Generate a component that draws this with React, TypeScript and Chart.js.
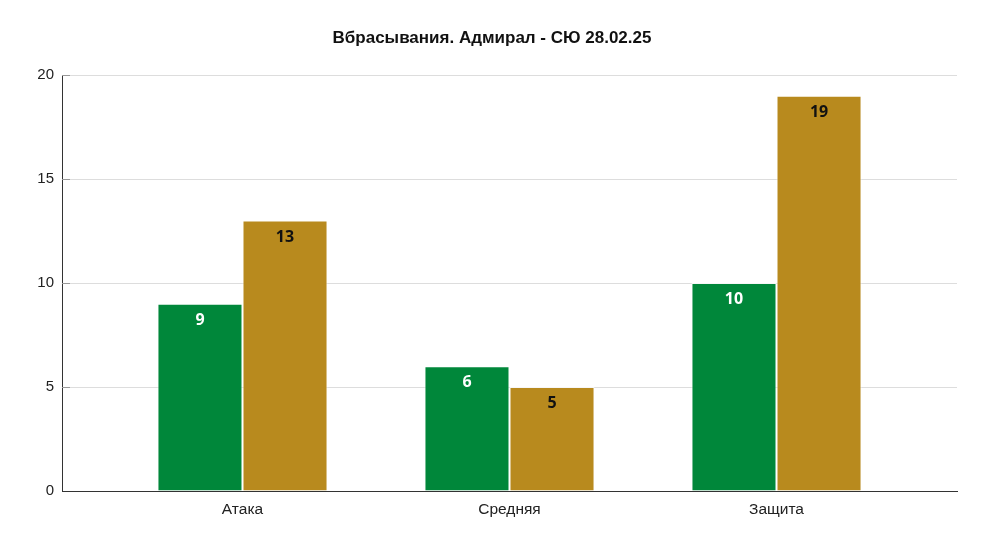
import React, { useEffect, useRef } from "react";
import { Chart, registerables } from "chart.js";

Chart.register(...registerables);

const categories = ["Атака", "Средняя", "Защита"];
const seriesGreen = [9, 6, 10];
const seriesGold = [13, 5, 19];
const yTicks = [0, 5, 10, 15, 20];
const titleText = "Вбрасывания. Адмирал - СЮ 28.02.25";

const GREEN = "#00873a";
const GOLD = "#b88a1e";

const labelPlugin = {
  id: "barLabels",
  afterDraw(chart: any) {
    const ctx = chart.ctx;
    ctx.save();
    // title centered on the whole canvas
    ctx.font = "bold 17px 'Liberation Sans'";
    ctx.fillStyle = "#111";
    ctx.textAlign = "center";
    ctx.textBaseline = "middle";
    ctx.fillText(titleText, chart.width / 2, 38);
    // small inner tick marks on the y axis
    const ys = chart.scales.y;
    const area = chart.chartArea;
    ctx.strokeStyle = "#999";
    ctx.lineWidth = 1;
    yTicks.forEach((t) => {
      if (t === 0) return;
      const py = Math.round(ys.getPixelForValue(t)) + 0.5;
      ctx.beginPath();
      ctx.moveTo(area.left, py);
      ctx.lineTo(area.left + 8, py);
      ctx.stroke();
    });
    ctx.restore();
  },
  afterDatasetsDraw(chart: any) {
    const ctx = chart.ctx;
    ctx.save();
    ctx.font = "bold 16px 'Open Sans'";
    ctx.textAlign = "center";
    ctx.textBaseline = "middle";
    chart.data.datasets.forEach((ds: any, di: number) => {
      const meta = chart.getDatasetMeta(di);
      meta.data.forEach((el: any, i: number) => {
        const v = ds.data[i].y;
        ctx.fillStyle = di === 0 ? "#ffffff" : "#111111";
        ctx.fillText(String(v), el.x, el.y + 16.5);
      });
    });
    ctx.restore();
  },
};

export default function App() {
  const ref = useRef<HTMLCanvasElement | null>(null);
  useEffect(() => {
    document.body.style.margin = "0";
    const chart = new Chart(ref.current!, {
      type: "bar",
      data: {
        datasets: [
          {
            data: seriesGreen.map((v, i) => ({ x: i, y: v })),
            backgroundColor: GREEN,
            borderColor: "rgba(255,255,255,0.75)",
            borderWidth: 1,
          },
          {
            data: seriesGold.map((v, i) => ({ x: i, y: v })),
            backgroundColor: GOLD,
            borderColor: "rgba(255,255,255,0.75)",
            borderWidth: 1,
          },
        ],
      },
      options: {
        animation: false,
        responsive: true,
        maintainAspectRatio: false,
        layout: { padding: { left: 0, right: 27, top: 75, bottom: 0 } },
        datasets: { bar: { categoryPercentage: 0.637, barPercentage: 1 } },
        plugins: {
          legend: { display: false },
          tooltip: { enabled: false },
          title: { display: false },
        },
        scales: {
          x: {
            type: "linear",
            offset: false,
            min: -0.676,
            max: 2.676,
            afterBuildTicks: (scale: any) => {
              scale.ticks = categories.map((_, i) => ({ value: i }));
            },
            afterFit: (scale: any) => {
              scale.height = 54;
            },
            grid: { display: true, offset: false, drawOnChartArea: false, drawTicks: false, color: "transparent" },
            border: { display: true, color: "#333", width: 1 },
            ticks: {
              padding: 9,
              color: "#222",
              font: { family: "'Liberation Sans'", size: 15.5 },
              autoSkip: false,
              maxRotation: 0,
              callback: (v: any) => categories[v] ?? "",
            },
          },
          y: {
            min: 0,
            max: 20,
            afterBuildTicks: (scale: any) => {
              scale.ticks = yTicks.map((v) => ({ value: v }));
            },
            afterFit: (scale: any) => {
              scale.width = 62;
            },
            grid: { color: "#dddddd", drawTicks: false },
            border: { display: true, color: "#333", width: 1 },
            ticks: {
              padding: 8,
              color: "#222",
              font: { family: "'Liberation Sans'", size: 15 },
            },
          },
        },
      },
      plugins: [labelPlugin],
    } as any);
    return () => chart.destroy();
  }, []);
  return (
    <div style={{ position: "fixed", left: 0, top: 0, width: 984, height: 545 }}>
      <canvas ref={ref} />
    </div>
  );
}
